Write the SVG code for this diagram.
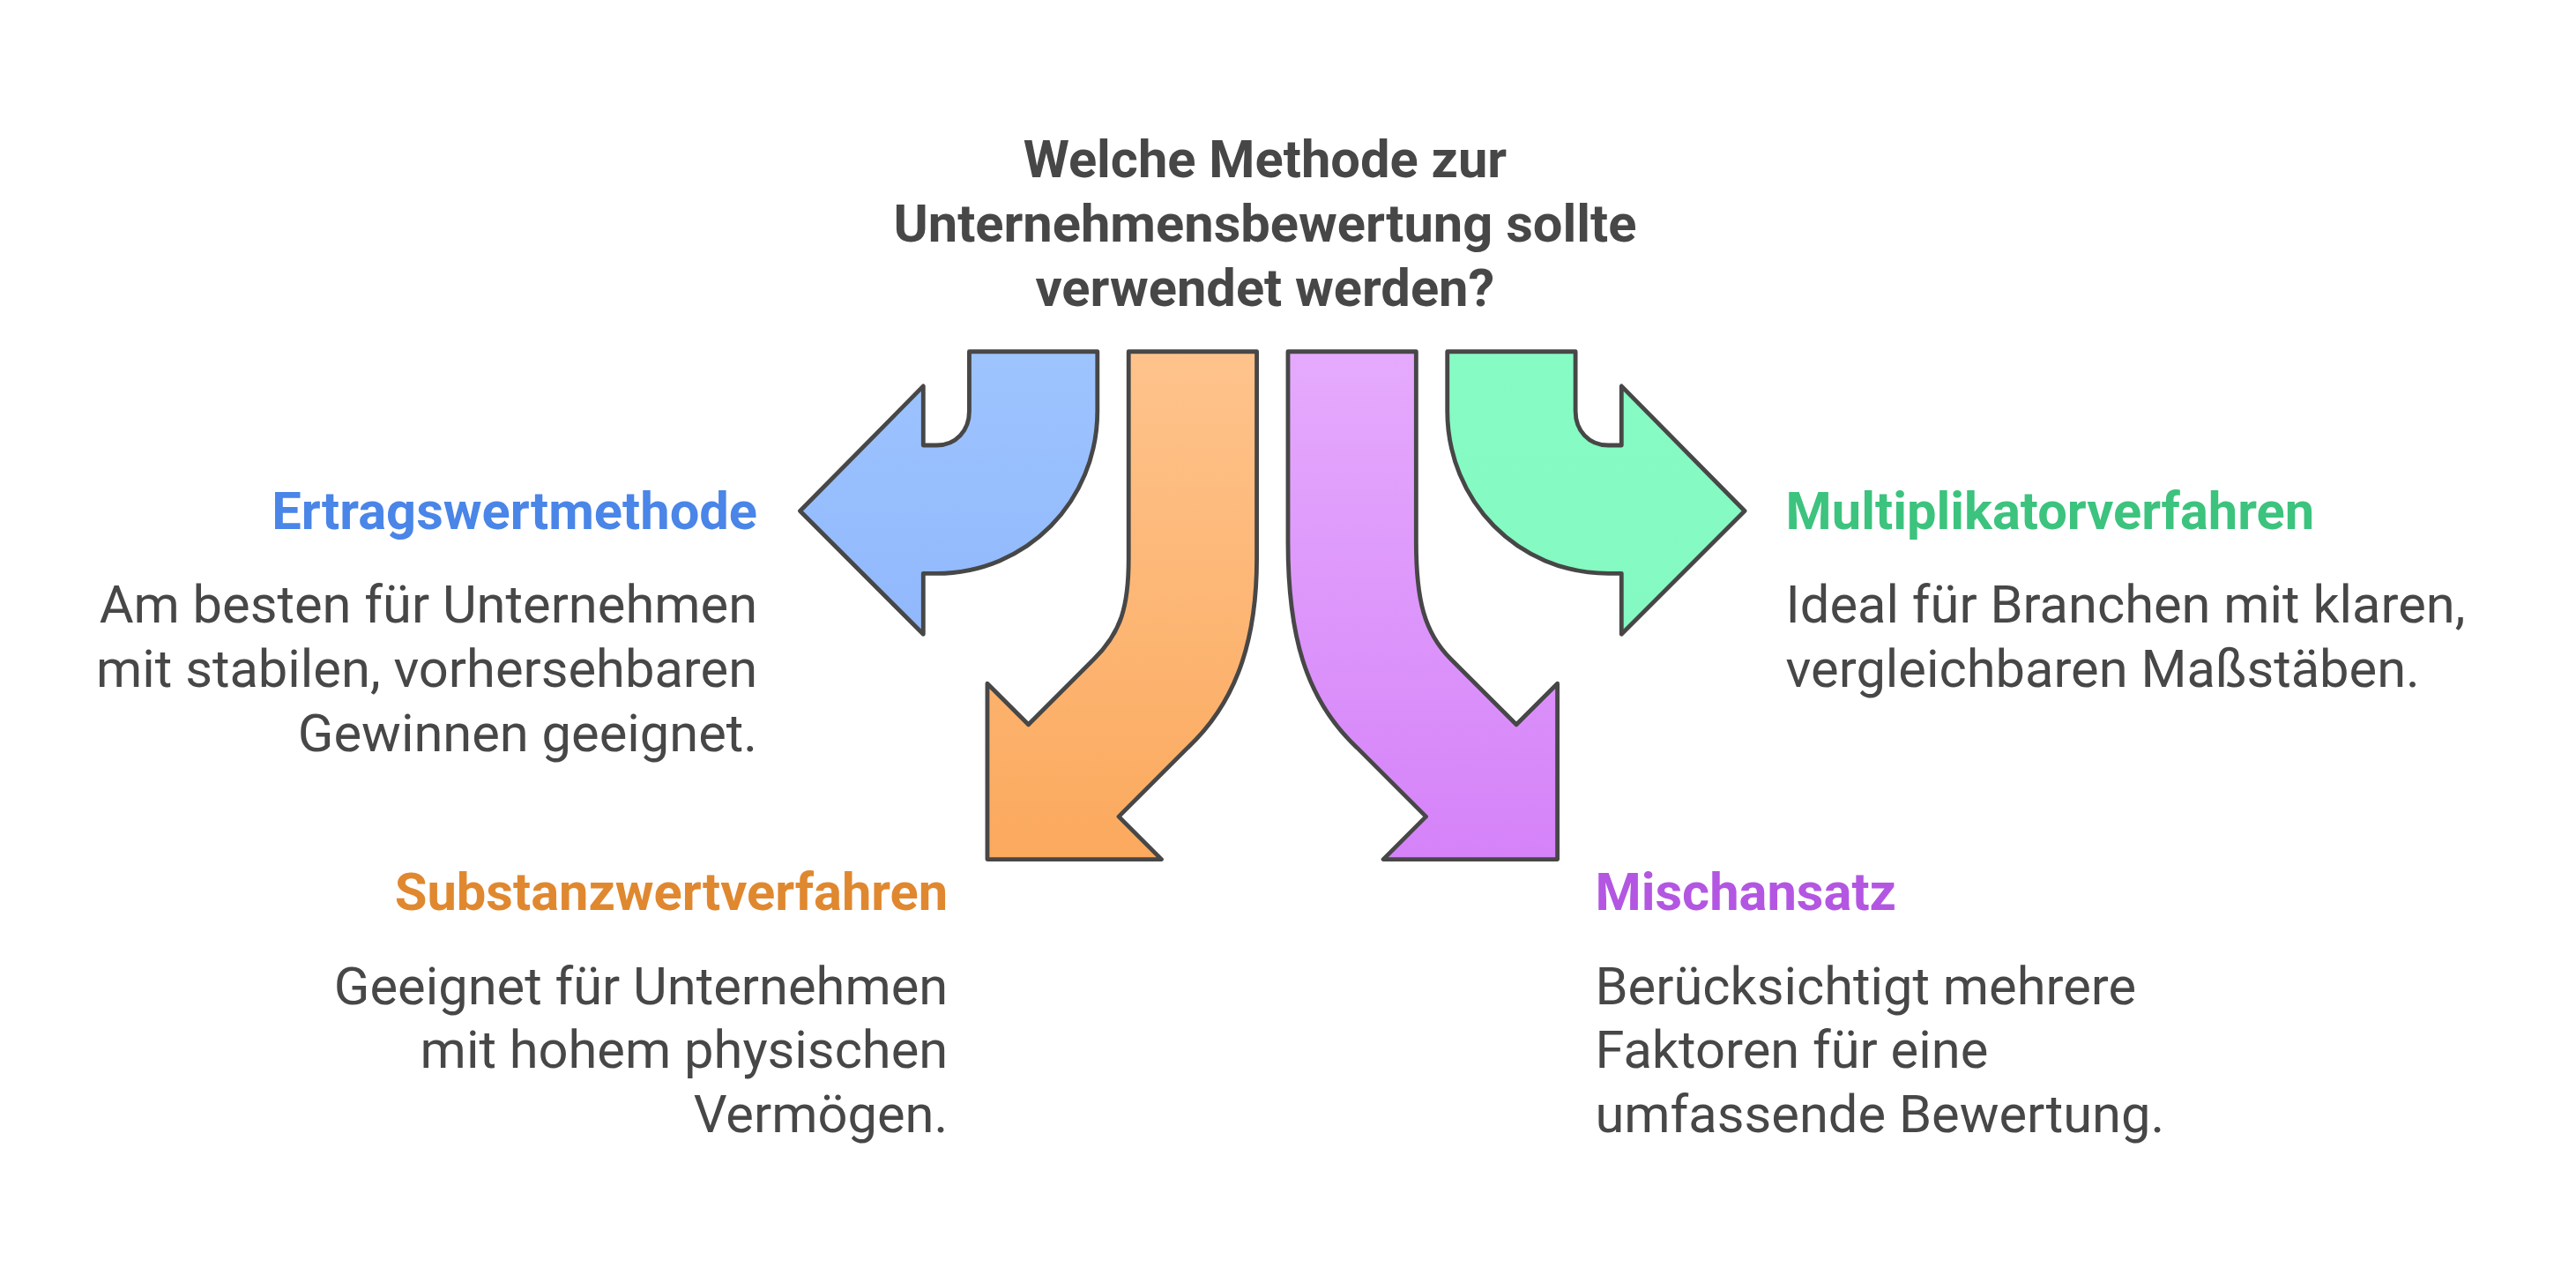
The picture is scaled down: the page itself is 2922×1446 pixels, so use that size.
<svg xmlns="http://www.w3.org/2000/svg" width="2922" height="1446" viewBox="0 0 2922 1446">
<defs>
<linearGradient id="gb" x1="0" y1="0" x2="0" y2="1"><stop offset="0" stop-color="#9ec4fe"/><stop offset="1" stop-color="#90b8fc"/></linearGradient>
<linearGradient id="go" x1="0" y1="0" x2="0" y2="1"><stop offset="0" stop-color="#fec38c"/><stop offset="1" stop-color="#fba95d"/></linearGradient>
<linearGradient id="gp" x1="0" y1="0" x2="0" y2="1"><stop offset="0" stop-color="#e5aafd"/><stop offset="1" stop-color="#d582f8"/></linearGradient>
<linearGradient id="gg" x1="0" y1="0" x2="0" y2="1"><stop offset="0" stop-color="#86fbc4"/><stop offset="1" stop-color="#84f9c1"/></linearGradient>
</defs>
<style>
.a{stroke:#474747;stroke-width:2.6;stroke-linejoin:round}
text{font-family:Roboto,"Liberation Sans",sans-serif;font-size:32px;fill:#474747}
.b{font-weight:bold}
.r{text-anchor:end}
</style>
<rect width="2922" height="1446" fill="#fff"/>
<g transform="scale(1.8635)">
<g id="title" class="b" text-anchor="middle"><text class="b" x="770" y="108">Welche Methode zur</text><text class="b" x="770" y="147">Unternehmensbewertung sollte</text><text class="b" x="770" y="186">verwendet werden?</text></g>
<g id="connectors">
<path id="arrow-blue" class="a" fill="url(#gb)" d="M590,214 H668 V250 C668,305 625,349 570,349 H562 V386 L487,311 L562,235 V271 H570 C582,271 590,262 590,250 Z"/>
<path id="arrow-green" class="a" fill="url(#gg)" d="M959,214 H881 V250 C881,305 924,349 979,349 H987 V386 L1062,311 L987,235 V271 H979 C967,271 959,262 959,250 Z"/>
<path id="arrow-orange" class="a" fill="url(#go)" d="M687,214 H765 V340 C765,385 755,425 723,455 L681,497 L707,523 H601 V416 L626,441 L666,401 C682,385 687,370 687,340 Z"/>
<path id="arrow-purple" class="a" fill="url(#gp)" d="M862,214 H784 V330 C784,385 794,425 826,455 L868,497 L842,523 H948 V416 L923,441 L883,401 C867,385 862,365 862,330 Z"/>
</g>
<g id="node-ertrag"><text class="b r" x="461" y="322" style="fill:#4a85e8">Ertragswertmethode</text><text class="r" x="461" y="379">Am besten für Unternehmen</text><text class="r" x="461" y="418">mit stabilen, vorhersehbaren</text><text class="r" x="461" y="457">Gewinnen geeignet.</text></g>
<g id="node-substanz"><text class="b r" x="577" y="554" style="fill:#e0882f">Substanzwertverfahren</text><text class="r" x="577" y="611">Geeignet für Unternehmen</text><text class="r" x="577" y="650">mit hohem physischen</text><text class="r" x="577" y="689">Vermögen.</text></g>
<g id="node-multi"><text class="b" x="1087" y="322" style="fill:#3cc37e">Multiplikatorverfahren</text><text x="1087" y="379">Ideal für Branchen mit klaren,</text><text x="1087" y="418">vergleichbaren Maßstäben.</text></g>
<g id="node-misch"><text class="b" x="971" y="554" style="fill:#b356e2">Mischansatz</text><text x="971" y="611">Berücksichtigt mehrere</text><text x="971" y="650">Faktoren für eine</text><text x="971" y="689">umfassende Bewertung.</text></g>
</g>
</svg>
